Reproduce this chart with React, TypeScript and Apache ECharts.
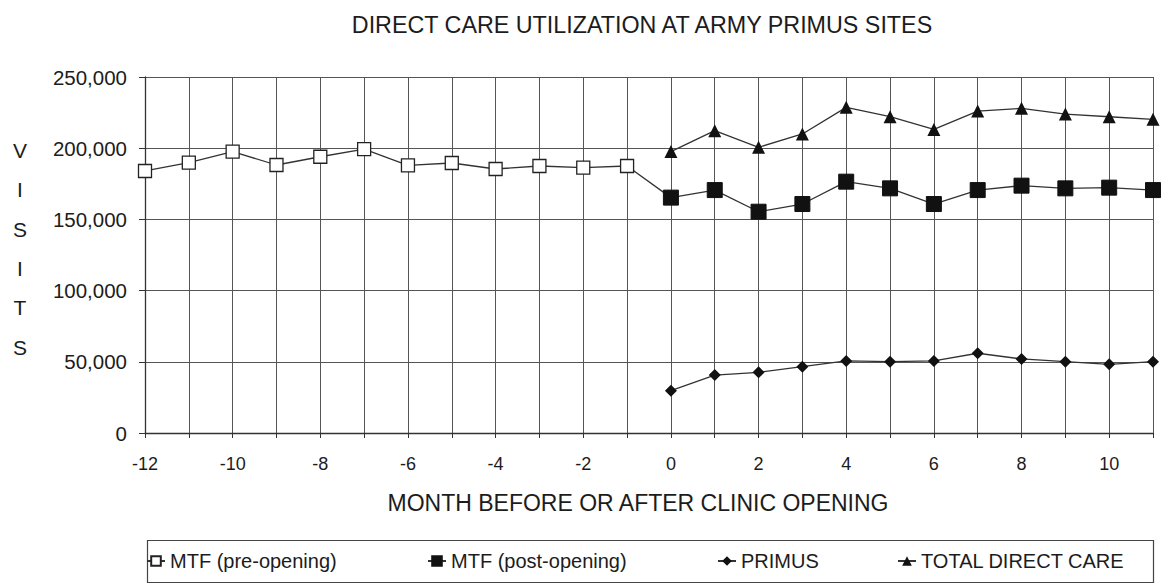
import React, { useEffect, useRef } from "react";
import * as echarts from "echarts";

const months: string[] = [
  "-12", "-11", "-10", "-9", "-8", "-7", "-6", "-5", "-4", "-3", "-2", "-1",
  "0", "1", "2", "3", "4", "5", "6", "7", "8", "9", "10", "11",
];
// months -12 .. -1
const mtfPre: number[] = [184000, 189800, 197600, 188200, 194000, 199400, 188000, 189600, 185400, 187500, 186300, 187500];
// months 0 .. 11
const mtfPost: number[] = [165300, 170600, 155400, 160800, 176500, 171800, 160800, 170600, 173700, 171800, 172300, 170600];
const primus: number[] = [29700, 40700, 42600, 46600, 50600, 50100, 50600, 56000, 52000, 50100, 48200, 50100];
const totalDirect: number[] = [197600, 212300, 200600, 210000, 228700, 222100, 213200, 226100, 228000, 224000, 222100, 220300];

const seriesNames: string[] = ["MTF (pre-opening)", "MTF (post-opening)", "PRIMUS", "TOTAL DIRECT CARE"];
const yTicks: number[] = [0, 50000, 100000, 150000, 200000, 250000];

const FONT = "'Liberation Sans', Arial, sans-serif";
const INK = "#1c1c1c";
const LINE = "#333333";

export default function App() {
  const ref = useRef<HTMLDivElement>(null);
  useEffect(() => {
    document.body.style.margin = "0";
    if (!ref.current) return;
    const chart = echarts.init(ref.current, undefined, { renderer: "svg" });
    const nPre = mtfPre.length;
    const preData: any[] = months.map((_, i) => {
      if (i < nPre) return mtfPre[i];
      if (i === nPre) return { value: mtfPost[0], symbol: "none" };
      return null;
    });
    const postData: any[] = months.map((_, i) => (i >= nPre ? mtfPost[i - nPre] : null));
    const primusData: any[] = months.map((_, i) => (i >= nPre ? primus[i - nPre] : null));
    const totalData: any[] = months.map((_, i) => (i >= nPre ? totalDirect[i - nPre] : null));

    const legendLefts = [146, 427, 717, 897];
    const legendBase = {
      top: 551,
      padding: 0,
      itemWidth: 18,
      itemHeight: 12,
      itemGap: 5,
      textStyle: { fontFamily: FONT, fontSize: 20, color: INK },
      selectedMode: false,
    };

    chart.setOption({
      animation: false,
      backgroundColor: "#ffffff",
      grid: { left: 145, top: 77, width: 1008, height: 356, containLabel: false },
      xAxis: {
        type: "category",
        data: months,
        boundaryGap: false,
        axisLine: { show: true, lineStyle: { color: LINE, width: 1.3 } },
        axisTick: { show: true, interval: 0, length: 5, lineStyle: { color: LINE } },
        axisLabel: {
          interval: 1,
          margin: 22,
          fontFamily: FONT,
          fontSize: 18,
          color: INK,
        },
        splitLine: { show: true, interval: 0, lineStyle: { color: "#555", width: 1 } },
      },
      yAxis: {
        type: "value",
        min: yTicks[0],
        max: yTicks[yTicks.length - 1],
        interval: 50000,
        axisLine: { show: true, lineStyle: { color: LINE, width: 1.3 } },
        axisTick: { show: true, length: 6, lineStyle: { color: LINE } },
        axisLabel: {
          margin: 18,
          fontFamily: FONT,
          fontSize: 20.5,
          color: INK,
          formatter: (v: number) => v.toLocaleString("en-US"),
        },
        splitLine: { show: true, lineStyle: { color: "#555", width: 1 } },
      },
      legend: seriesNames.map((n, i) => ({ ...legendBase, data: [n], left: legendLefts[i] })),
      graphic: [
        {
          type: "text",
          x: 642,
          y: 25,
          style: {
            text: "DIRECT CARE UTILIZATION AT ARMY PRIMUS SITES",
            font: `23.3px ${FONT}`,
            fill: INK,
            textAlign: "center",
            textVerticalAlign: "middle",
          },
        },
        {
          type: "text",
          x: 638,
          y: 503,
          style: {
            text: "MONTH BEFORE OR AFTER CLINIC OPENING",
            font: `23px ${FONT}`,
            fill: INK,
            textAlign: "center",
            textVerticalAlign: "middle",
          },
        },
        {
          type: "text",
          x: 20,
          y: 130.5,
          style: {
            text: "V\nI\nS\nI\nT\nS",
            font: `21px ${FONT}`,
            lineHeight: 39.4,
            fill: INK,
            textAlign: "center",
            textVerticalAlign: "top",
          },
        },
        {
          type: "rect",
          shape: { x: 147.5, y: 540.5, width: 1006, height: 42 },
          style: { fill: "none", stroke: "#444", lineWidth: 1.2 },
          z: -1,
        },
      ],
      series: [
        {
          name: seriesNames[0],
          type: "line",
          data: preData,
          symbol: "rect",
          symbolSize: 13,
          connectNulls: false,
          lineStyle: { color: LINE, width: 1.3 },
          itemStyle: { color: "#ffffff", borderColor: "#222", borderWidth: 1.3 },
          z: 3,
        },
        {
          name: seriesNames[1],
          type: "line",
          data: postData,
          symbol: "rect",
          symbolSize: 15,
          lineStyle: { color: LINE, width: 1.3 },
          itemStyle: { color: "#111111", borderColor: "#111", borderWidth: 1 },
          z: 4,
        },
        {
          name: seriesNames[2],
          type: "line",
          data: primusData,
          symbol: "diamond",
          symbolSize: 12,
          lineStyle: { color: LINE, width: 1.3 },
          itemStyle: { color: "#111111" },
          z: 4,
        },
        {
          name: seriesNames[3],
          type: "line",
          data: totalData,
          symbol: "triangle",
          symbolSize: 13,
          lineStyle: { color: LINE, width: 1.3 },
          itemStyle: { color: "#111111" },
          z: 4,
        },
      ],
    });
    return () => chart.dispose();
  }, []);
  return <div ref={ref} style={{ width: 1165, height: 585 }} />;
}
